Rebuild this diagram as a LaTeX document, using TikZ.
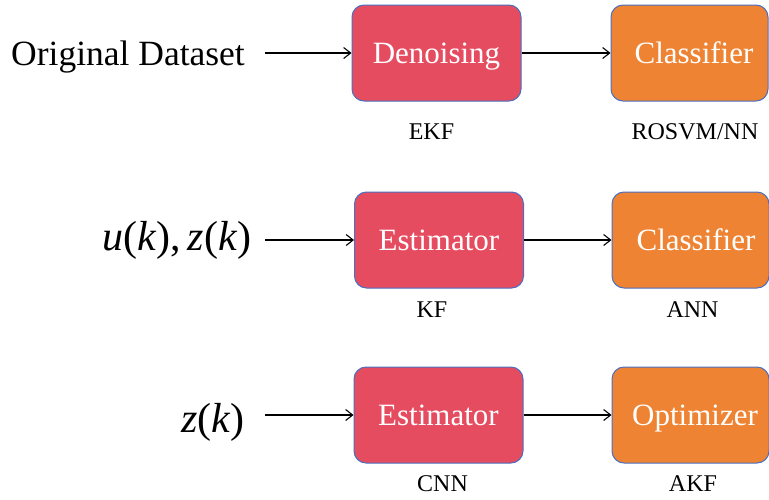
\documentclass[tikz,border=0pt]{standalone}
\usepackage{fontspec}
\setmainfont{Liberation Serif}
\usetikzlibrary{arrows.meta}
\definecolor{redc}{HTML}{E64C60}
\definecolor{orgc}{HTML}{EE8433}
\definecolor{bordc}{HTML}{4A6FC0}
\tikzset{
  box/.style={draw=bordc, line width=1pt, rounded corners=12pt, minimum height=96pt,
    inner sep=0pt, text height=23pt, text depth=2.5pt, text=white, font=\fontsize{31}{31}\selectfont},
  redb/.style={box, fill=redc, minimum width=169pt},
  orgb/.style={box, fill=orgc, minimum width=157pt},
  sublab/.style={font=\fontsize{24}{24}\selectfont, anchor=base, inner sep=0pt},
  inlab/.style={anchor=base west, inner sep=0pt},
  arr/.style={-{Straight Barb[length=7pt,width=11pt,line width=1.1pt]}, line width=1.1pt}
}
\begin{document}
\begin{tikzpicture}[x=1pt,y=-1pt]
\useasboundingbox (0,0) rectangle (769,499);
% row 1
\node[inlab, font=\fontsize{35.5}{36}\selectfont] (in1) at (11,65) {Original Dataset};
\node[redb] (d1) at (436.5,53) {Denoising};
\node[orgb] (c1) at (689.5,53) {\hspace*{9pt}Classifier};
\node[sublab] (l1a) at (431.5,139) {EKF};
\node[sublab] (l1b) at (695,139) {ROSVM/NN};
\coordinate (s1) at (265,53);
\draw[arr] (s1) -- (d1.west);
\draw[arr] (d1.east) -- (c1.west);
% row 2
\node[inlab, font=\fontsize{42}{42}\selectfont] (in2) at (102,250) {\textit{u}(\textit{k\/}),\,\textit{z}(\textit{k\/})};
\node[redb] (e2) at (439,240) {Estimator};
\node[orgb] (c2) at (690.5,240) {\hspace*{11pt}Classifier};
\node[sublab] (l2a) at (432,317) {KF};
\node[sublab] (l2b) at (692.5,317) {ANN};
\coordinate (s2) at (265,240);
\draw[arr] (s2) -- (e2.west);
\draw[arr] (e2.east) -- (c2.west);
% row 3
\node[inlab, font=\fontsize{42}{42}\selectfont] (in3) at (181,432) {\textit{z}(\textit{k\/})};
\node[redb] (e3) at (438.5,415) {Estimator};
\node[orgb] (o3) at (690.5,415) {\hspace*{9pt}Optimizer};
\node[sublab] (l3a) at (442.5,491) {CNN};
\node[sublab] (l3b) at (693,491) {AKF};
\coordinate (s3) at (265,415);
\draw[arr] (s3) -- (e3.west);
\draw[arr] (e3.east) -- (o3.west);
\end{tikzpicture}
\end{document}
